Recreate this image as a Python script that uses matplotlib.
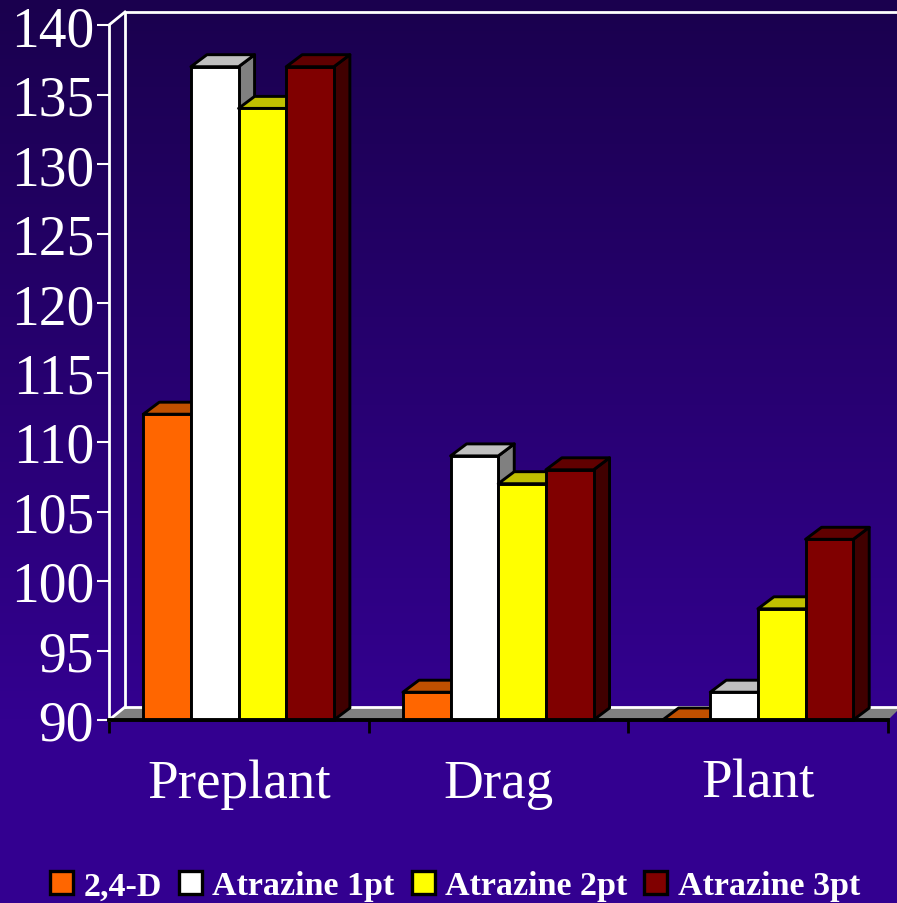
import numpy as np
import matplotlib
matplotlib.use('Agg')
import matplotlib.pyplot as plt
from matplotlib.patches import Polygon, Patch

plt.rcParams['font.family'] = ['Liberation Serif', 'DejaVu Serif']

categories = ['Preplant', 'Drag', 'Plant']
series_names = ['2,4-D', 'Atrazine 1pt', 'Atrazine 2pt', 'Atrazine 3pt']
d24 = [112, 92, 90]
atr1 = [137, 109, 92]
atr2 = [134, 107, 98]
atr3 = [137, 108, 103]
yticks = [90, 95, 100, 105, 110, 115, 120, 125, 130, 135, 140]

front_cols = ['#FF6600', '#FFFFFF', '#FFFF00', '#800000']
top_cols = ['#C05000', '#C0C0C0', '#C0C000', '#600000']
side_cols = ['#804000', '#808080', '#808000', '#400000']

W, H = 897, 904
fig = plt.figure(figsize=(W / 100, H / 100), dpi=100)

# background gradient
bg = fig.add_axes([0, 0, 1, 1], zorder=0)
grad = np.linspace(0, 1, 256).reshape(-1, 1, 1)
top_c = np.array([0x1A, 0x00, 0x4E]) / 255
bot_c = np.array([0x33, 0x00, 0x90]) / 255
bg.imshow(top_c + (bot_c - top_c) * np.clip(grad / 0.8, 0, 1), aspect='auto')
bg.axis('off')

# plot area in pixels
x0, x1, y_base, y_top = 109, 888, 721, 26
ax = fig.add_axes([x0 / W, 1 - y_base / H, (x1 - x0) / W, (y_base - y_top) / H], zorder=1)
ax.set_xlim(0, 3)
ax.set_ylim(90, 140)
ax.patch.set_alpha(0)

# 3d depth, in data units
dx = 16 / ((x1 - x0) / 3)
dy = 13 / ((y_base - y_top) / 50)
bar_dy = 12 / ((y_base - y_top) / 50)

# walls and floor
ax.add_patch(Polygon([(0, 90), (dx, 90 + dy), (3.05, 90 + dy), (3, 90)], closed=True,
                     fc='#808080', ec='none', clip_on=False, zorder=1))
ax.plot([dx, dx, 3.05], [90 + dy, 140 + dy, 140 + dy], color='white', lw=2, clip_on=False, zorder=2)
ax.plot([0, dx], [140, 140 + dy], color='white', lw=2, clip_on=False, zorder=2)
ax.plot([0, dx], [90, 90 + dy], color='white', lw=2, clip_on=False, zorder=2)
ax.plot([dx, 3.05], [90 + dy, 90 + dy], color='white', lw=2, clip_on=False, zorder=2)

bar_w = 0.1835
start = 0.132
z = 3
lw = 2.1
for i, vals in enumerate([d24, atr1, atr2, atr3]):
    for j, v in enumerate(vals):
        left = j + start + i * bar_w
        right = left + bar_w
        ax.add_patch(Polygon([(right, 90), (right + dx, 90 + bar_dy), (right + dx, v + bar_dy), (right, v)],
                             closed=True, fc=side_cols[i], ec='black', lw=lw, zorder=z + j * 10 + i,
                             clip_on=False, joinstyle='round'))
        ax.add_patch(Polygon([(left, v), (left + dx, v + bar_dy), (right + dx, v + bar_dy), (right, v)],
                             closed=True, fc=top_cols[i], ec='black', lw=lw, zorder=z + j * 10 + i,
                             clip_on=False, joinstyle='round'))
        ax.bar(left, v - 90, bar_w, bottom=90, align='edge', color=front_cols[i], edgecolor='black',
               linewidth=lw, zorder=z + j * 10 + i + 0.5, clip_on=False)

for s in ['top', 'right']:
    ax.spines[s].set_visible(False)
ax.spines['left'].set_color('white')
ax.spines['left'].set_linewidth(2)
ax.spines['bottom'].set_color('black')
ax.spines['bottom'].set_linewidth(2.8)
ax.spines['bottom'].set_zorder(60)

# y labels sit a few pixels below their ticks in the original
ax.set_yticks(yticks)
ax.set_yticklabels([])
ax.tick_params(axis='y', colors='white', length=9, width=1.5)
for v in yticks:
    ax.annotate(str(v), xy=(0, v), xytext=(-15, -6), xycoords='data', textcoords='offset pixels',
                ha='right', va='center', color='white', fontsize=40, annotation_clip=False)

ax.set_xticks([0, 1, 2, 3])
ax.set_xticklabels([])
ax.tick_params(axis='x', color='black', length=9, width=2)
ax.set_xticks([0.5, 1.5, 2.5], minor=True)
ax.set_xticklabels(categories, minor=True)
ax.tick_params(axis='x', which='minor', length=0, colors='white', labelsize=39.7, pad=27.5)

handles = [Patch(fc=c, ec='black', lw=2.4) for c in front_cols]
leg = fig.legend(handles, series_names, ncol=4, frameon=False, loc='center',
                 bbox_to_anchor=(455 / W, 1 - 887 / H), handlelength=0.68, handleheight=0.68,
                 handletextpad=0.3, columnspacing=0.5, borderpad=0, prop={'size': 24.5, 'weight': 'bold'})
for t in leg.get_texts():
    t.set_color('white')

fig.savefig('out.png', dpi=100)
